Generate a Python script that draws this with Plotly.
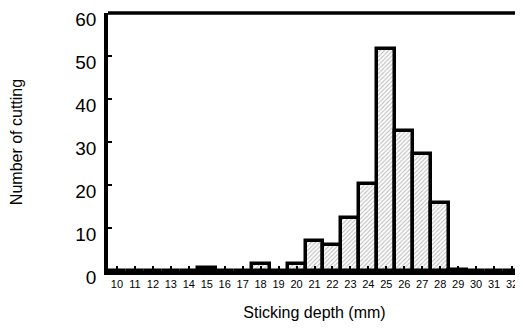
import plotly.graph_objects as go

depths = list(range(10, 33))
counts = [0, 0, 0, 0, 0, 0.6, 0, 0, 1.7, 0, 1.7, 7, 6, 12.3, 20.2, 51.6, 32.6, 27.2, 15.8, 0.3, 0, 0, 0]
y_ticks = [0, 10, 20, 30, 40, 50, 60]

FONT = "Liberation Sans, Arial, sans-serif"

fig = go.Figure(go.Bar(
    x=depths, y=counts, width=1.0,
    marker=dict(color="white", line=dict(color="black", width=3.5),
                pattern=dict(shape="/", fgcolor="#7a7a7a", bgcolor="white", size=3, solidity=0.35)),
))

# page body has an 8px default margin; the figure is sized to fit the 523x331 window
fig.update_layout(
    width=515, height=323,
    margin=dict(l=100, r=2, t=5, b=60),
    paper_bgcolor="white", plot_bgcolor="white",
    bargap=0, showlegend=False,
    font=dict(family=FONT, color="black"),
    shapes=[
        dict(type="line", xref="paper", yref="paper", x0=0, x1=1, y0=1, y1=1, line=dict(color="black", width=3.5)),
        dict(type="line", xref="paper", yref="paper", x0=1, x1=1, y0=0, y1=1, line=dict(color="black", width=1)),
    ],
)
fig.update_xaxes(
    range=[9.5, 32.5], tickvals=depths, ticktext=[str(d) for d in depths],
    showline=True, linecolor="black", linewidth=3.5, ticks="inside", ticklen=5, tickwidth=1.5,
    tickcolor="black", showgrid=False, zeroline=False, tickfont=dict(size=11), automargin=False,
    title=dict(text="Sticking depth (mm)", font=dict(size=16), standoff=19),
)
fig.update_yaxes(
    range=[0, 60], tickvals=y_ticks,
    showline=True, linecolor="black", linewidth=3.5, ticks="inside", ticklen=4, tickwidth=1.5,
    tickcolor="black", showgrid=False, zeroline=False, tickfont=dict(size=19), automargin=False,
    ticklabelstandoff=4, ticklabelshift=6,
    title=dict(text="Number of cutting", font=dict(size=16), standoff=52),
)

fig.write_html("out.html")
